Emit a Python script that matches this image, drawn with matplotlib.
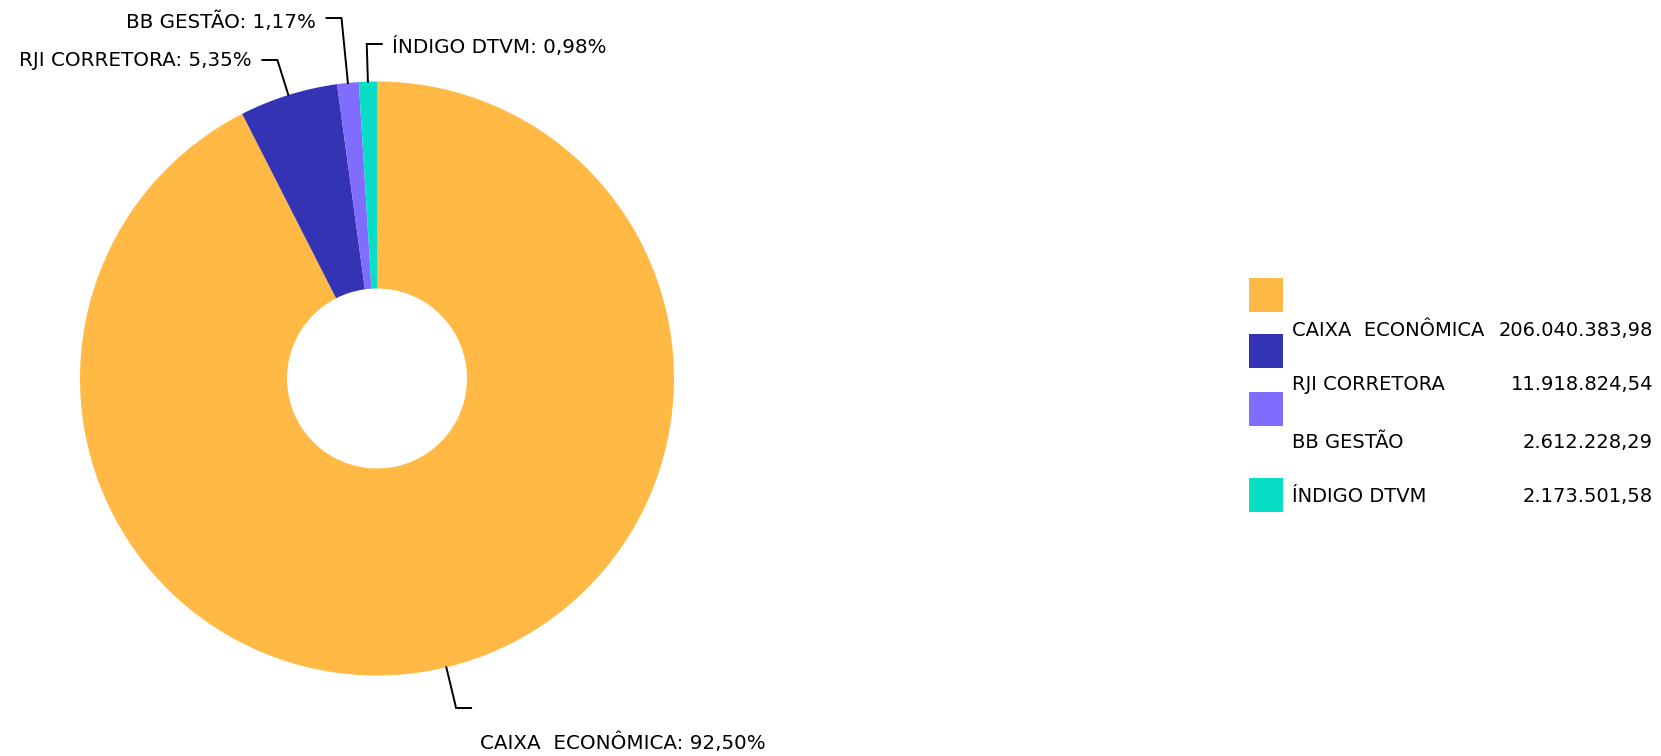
import numpy as np
import matplotlib
matplotlib.use("Agg")
from matplotlib import pyplot as plt
from matplotlib.patches import Rectangle

# data
names = ["CAIXA  ECONÔMICA", "RJI CORRETORA", "BB GESTÃO", "ÍNDIGO DTVM"]
values = [206040383.98, 11918824.54, 2612228.29, 2173501.58]
colors = ["#FFB944", "#3333B4", "#806CFF", "#08DEC6"]

W, H = 1661, 756
CX, CY, R, R_IN = 377, 378.5, 297, 90


def br_number(v):
    s = f"{v:,.2f}"
    return s.replace(",", "X").replace(".", ",").replace("X", ".")


def br_pct(p):
    return f"{p:.2f}".replace(".", ",") + "%"


plt.rcParams['font.family'] = ['DejaVu Sans']
fig = plt.figure(figsize=(W / 100, H / 100), dpi=100)
ax = fig.add_axes([0, 0, 1, 1])

# y axis inverted so layout numbers are pixels from the top;
# visual clockwise from 12 o'clock = data counterclockwise from -90
wedges, _ = ax.pie(values, colors=colors, startangle=-90, counterclock=True,
                   center=(CX, CY), radius=R, frame=True,
                   wedgeprops=dict(width=R - R_IN, linewidth=0))
ax.set_xlim(0, W)
ax.set_ylim(H, 0)
ax.set_aspect('equal')
ax.axis('off')

total = sum(values)
pcts = [v / total * 100 for v in values]

# elbow y (pixels), direction of the short horizontal, text anchor
label_y = [708, 60, 18, 44]
side = [1, -1, -1, 1]
text_pos = [(480, 743, 'left'), (252, 61, 'right'), (316, 22, 'right'), (392, 47, 'left')]

for w, name, p, ey, sd, tp in zip(wedges, names, pcts, label_y, side, text_pos):
    mid = np.deg2rad((w.theta1 + w.theta2) / 2)
    dx, dy = np.cos(mid), np.sin(mid)
    x0, y0 = CX + R * dx, CY + R * dy
    t = (ey - y0) / dy
    x1 = x0 + t * dx
    x2 = x1 + sd * 15
    ax.plot([x0, x1, x2], [y0, ey, ey], color='black', lw=1.4, solid_joinstyle='miter')
    ax.text(tp[0], tp[1], f"{name}: {br_pct(p)}", ha=tp[2], va='center', fontsize=14.3)

# legend
box_y = [278, 334, 392, 478]
text_y = [330, 385, 442, 496]
for c, name, v, by, ty in zip(colors, names, values, box_y, text_y):
    ax.add_patch(Rectangle((1249, by), 34, 34, color=c, lw=0))
    ax.text(1292, ty, name, ha='left', va='center', fontsize=14)
    ax.text(1653, ty, br_number(v), ha='right', va='center', fontsize=14)

fig.savefig("out.png", dpi=100)
